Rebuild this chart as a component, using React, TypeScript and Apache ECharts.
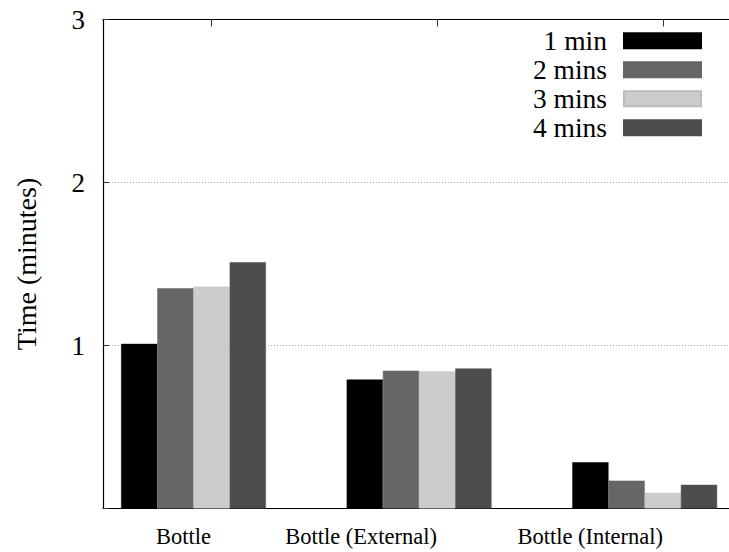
import React, { useEffect, useRef } from "react";
import * as echarts from "echarts";

const categories = ["Bottle", "Bottle (External)", "Bottle (Internal)"];
const seriesNames = ["1 min", "2 mins", "3 mins", "4 mins"];
const min1 = [1.01, 0.791, 0.284];
const mins2 = [1.351, 0.845, 0.171];
const mins3 = [1.361, 0.841, 0.096];
const mins4 = [1.511, 0.859, 0.145];
const seriesValues = [min1, mins2, mins3, mins4];
const seriesColors = ["#000000", "#666666", "#cccccc", "#4d4d4d"];
const yTicks = [0, 1, 2, 3];

const FONT = "Liberation Serif";

export default function App() {
  const ref = useRef<HTMLDivElement>(null);
  useEffect(() => {
    document.body.style.margin = "0";
    if (!ref.current) return;
    const chart = echarts.init(ref.current, null, { renderer: "svg" });
    const top = 19.5;
    const height = 489;
    chart.setOption({
      animation: false,
      grid: [
        { left: 103, top, width: 626, height, containLabel: false },
        { left: 193.5, top, width: 451.2, height, containLabel: false },
        { left: 211, top, width: 452, height, containLabel: false },
      ],
      legend: {
        orient: "vertical",
        right: 27,
        top: 26.75,
        align: "right",
        icon: "rect",
        itemWidth: 77,
        itemHeight: 15,
        itemGap: 1,
        padding: 0,
        formatter: (n: string) => "{a|" + n + "}",
        textStyle: {
          fontFamily: FONT,
          fontSize: 27.5,
          color: "#000",
          padding: [0, 12, 0, 0],
          rich: { a: { fontFamily: FONT, fontSize: 27.5, color: "#000" } },
        },
        data: seriesNames,
      },
      xAxis: [
        {
          gridIndex: 0,
          type: "value",
          min: 0,
          max: 1,
          position: "bottom",
          axisLine: { show: true, lineStyle: { color: "#000", width: 1.2 } },
          axisTick: { show: false },
          axisLabel: { show: false },
          splitLine: { show: false },
        },
        {
          gridIndex: 0,
          type: "value",
          min: 0,
          max: 1,
          position: "top",
          axisLine: { show: true, lineStyle: { color: "#000", width: 1.2 } },
          axisTick: { show: false },
          axisLabel: { show: false },
          splitLine: { show: false },
        },
        {
          gridIndex: 1,
          type: "category",
          data: categories,
          boundaryGap: false,
          show: false,
        },
        {
          gridIndex: 2,
          type: "category",
          data: categories,
          boundaryGap: false,
          position: "bottom",
          axisLine: { show: false },
          axisTick: { show: false },
          axisLabel: {
            show: true,
            align: "right",
            margin: 16,
            fontSize: 22.5,
            fontFamily: FONT,
            color: "#000",
          },
        },
        {
          gridIndex: 2,
          type: "category",
          data: categories,
          boundaryGap: false,
          position: "top",
          axisLine: { show: false },
          axisTick: {
            show: true,
            inside: true,
            length: 7,
            lineStyle: { color: "#333", width: 1 },
          },
          axisLabel: { show: false },
        },
      ],
      yAxis: [
        {
          gridIndex: 0,
          type: "value",
          min: yTicks[0],
          max: yTicks[yTicks.length - 1],
          interval: 1,
          name: "{t|Time (minutes)}",
          nameLocation: "middle",
          nameRotate: 90,
          nameGap: 63,
          nameTextStyle: {
            fontFamily: FONT,
            fontSize: 28,
            color: "#000",
            rich: { t: { fontFamily: FONT, fontSize: 28, color: "#000" } },
          },
          axisLine: { show: true, lineStyle: { color: "#000", width: 1.2 } },
          axisTick: {
            show: true,
            inside: true,
            length: 6,
            lineStyle: { color: "#333", width: 1 },
          },
          axisLabel: {
            margin: 18,
            fontSize: 27,
            fontFamily: FONT,
            color: "#000",
            formatter: (v: number) => (v === 0 ? "" : "{a|" + v + "}"),
            rich: { a: { fontFamily: FONT, fontSize: 27, color: "#000" } },
          },
          splitLine: {
            show: true,
            lineStyle: { color: "#aaaaaa", type: [1, 2], width: 1 },
          },
        },
        {
          gridIndex: 1,
          type: "value",
          min: yTicks[0],
          max: yTicks[yTicks.length - 1],
          show: false,
        },
        {
          gridIndex: 2,
          type: "value",
          min: 0,
          max: 3,
          show: false,
        },
      ],
      series: seriesNames.map((name, i) => ({
        name,
        type: "bar",
        xAxisIndex: 2,
        yAxisIndex: 1,
        data: seriesValues[i],
        barWidth: 36.2,
        barGap: "0%",
        itemStyle: {
          color: seriesColors[i],
          borderColor: i === 2 ? "#bbbbbb" : seriesColors[i],
          borderWidth: 0.5,
        },
      })),
    });
    return () => chart.dispose();
  }, []);
  return <div ref={ref} style={{ width: 729, height: 552 }} />;
}
